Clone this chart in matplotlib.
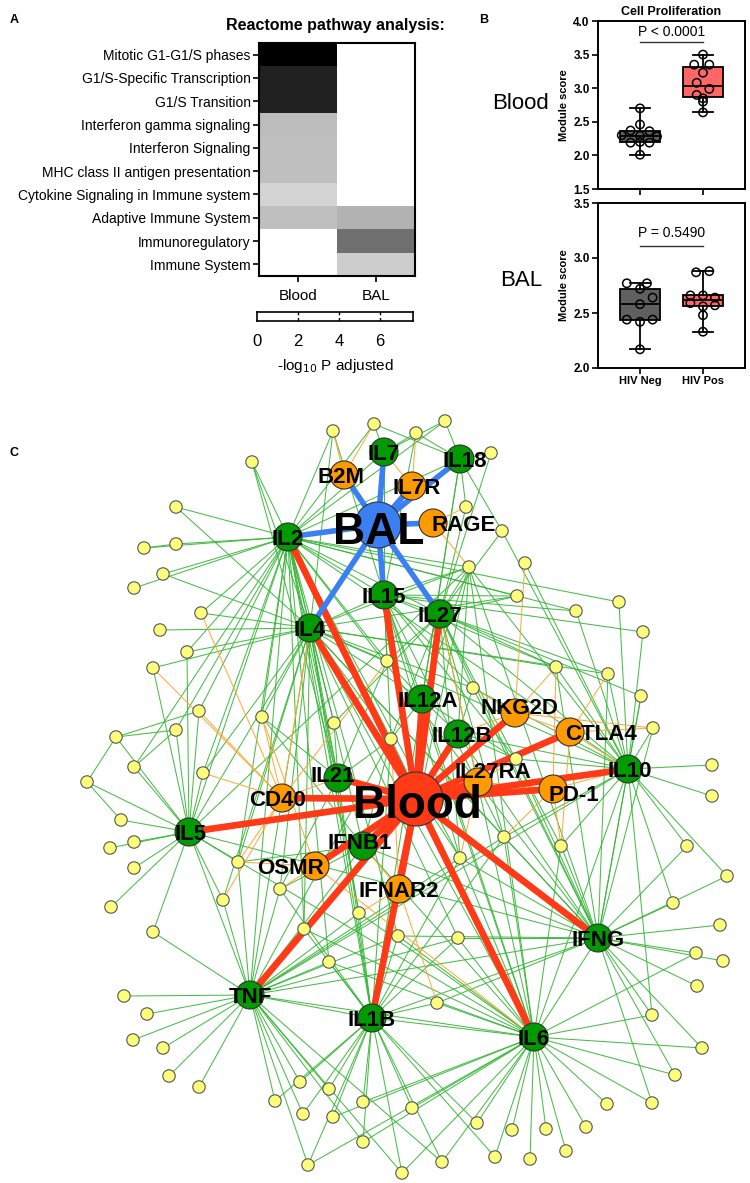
import matplotlib
matplotlib.use("Agg")
import matplotlib.pyplot as plt
import numpy as np
from matplotlib.colors import LinearSegmentedColormap
from matplotlib.patches import Circle
from matplotlib.collections import LineCollection

plt.rcParams['font.family'] = ['Liberation Sans', 'DejaVu Sans']

# ---------------- Panel A data ----------------
pathways = ["Mitotic G1-G1/S phases", "G1/S-Specific Transcription", "G1/S Transition",
            "Interferon gamma signaling", "Interferon Signaling", "MHC class II antigen presentation",
            "Cytokine Signaling in Immune system", "Adaptive Immune System", "Immunoregulatory",
            "Immune System"]
tissues = ["Blood", "BAL"]
blood_logp = [7.6, 6.6, 6.6, 2.0, 1.9, 1.9, 1.3, 1.9, 0.0, 0.0]
bal_logp = [0.0, 0.0, 0.0, 0.0, 0.0, 0.0, 0.0, 2.3, 4.3, 1.5]
cbar_ticks = [0, 2, 4, 6]
cbar_max = 7.6

# ---------------- Panel B data ----------------
groups = ["HIV Neg", "HIV Pos"]
blood_neg = [2.70, 2.46, 2.37, 2.30, 2.36, 2.29, 2.28, 2.19, 2.20, 2.19, 2.01]
blood_neg_dx = [0, 0, -0.15, -0.29, 0.15, 0.0, 0.27, -0.15, 0, 0.15, 0]
blood_pos = [3.50, 3.35, 3.35, 3.23, 3.08, 2.99, 2.90, 2.85, 2.80, 2.64]
blood_pos_dx = [0, -0.14, 0.10, 0, -0.10, 0.10, -0.10, 0, 0, 0]
bal_neg = [2.77, 2.77, 2.72, 2.64, 2.58, 2.44, 2.42, 2.44, 2.17]
bal_neg_dx = [-0.21, 0.11, 0, 0.2, 0, -0.21, 0, 0.2, 0]
bal_pos = [2.87, 2.88, 2.66, 2.66, 2.64, 2.59, 2.56, 2.57, 2.48, 2.33]
bal_pos_dx = [-0.11, 0.10, -0.2, 0, 0.19, -0.2, 0, 0.19, 0, 0]
p_blood = "P < 0.0001"
p_bal = "P = 0.5490"

# ---------------- Panel C data (network layout) ----------------
hub_names = ["BAL", "Blood", "IL7", "IL18", "B2M", "IL7R", "RAGE", "IL2", "IL15", "IL27", "IL4",
             "IL12A", "NKG2D", "IL12B", "CTLA4", "IL27RA", "IL10", "PD-1", "IL21", "CD40", "IL5",
             "IFNB1", "OSMR", "IFNAR2", "IFNG", "TNF", "IL1B", "IL6"]
hub_x = [378, 416, 384, 460, 344, 412, 433, 288, 384, 440, 310, 422, 515, 458, 570, 478, 628,
         553, 338, 282, 189, 363, 315, 399, 598, 250, 372, 534]
hub_y = [525, 799, 452, 459, 475, 486, 523, 537, 595, 614, 628, 699, 713, 734, 732, 782, 769,
         789, 778, 798, 832, 846, 866, 889, 938, 995, 1018, 1037]
hub_kind = ["bal", "blood", "g", "g", "o", "o", "o", "g", "g", "g", "g", "g", "o", "g", "o", "o",
            "g", "o", "g", "o", "g", "g", "o", "o", "g", "g", "g", "g"]
blood_links = ["IL2", "IL4", "IL15", "IL27", "IL12A", "IL12B", "NKG2D", "CTLA4", "IL27RA", "PD-1",
               "IL10", "IL21", "CD40", "IL5", "IFNB1", "OSMR", "IFNAR2", "IFNG", "TNF", "IL1B", "IL6"]
bal_links = ["IL2", "IL4", "IL15", "IL27", "B2M", "IL7", "IL7R", "IL18", "RAGE"]
hub_hub_links = [("IL2", "IL4"), ("IL2", "IL15"), ("IL2", "IL7"), ("IL2", "IL18"), ("IL2", "IL27"),
                 ("IL4", "IL5"), ("IL4", "IL21"), ("IL4", "IL15"), ("IL4", "TNF"), ("IL4", "IFNG"),
                 ("IL4", "IL6"), ("IL4", "IL1B"), ("IL4", "IL10"), ("IL2", "IL10"), ("IL2", "TNF"),
                 ("IL2", "IL6"), ("IL2", "IFNG"), ("IL2", "IL1B"), ("IL2", "IL5"), ("IL2", "IL21"),
                 ("IL15", "IL27"), ("IL15", "IL12A"), ("IL12A", "IL12B"), ("IL12B", "IFNG"),
                 ("IL27", "IL10"), ("IL10", "IFNG"), ("IL10", "IL6"), ("IL10", "TNF"),
                 ("IFNG", "TNF"), ("IFNG", "IL6"), ("TNF", "IL1B"), ("TNF", "IL6"), ("IL1B", "IL6"),
                 ("IL1B", "IFNG"), ("IL5", "TNF"), ("IL5", "IL6"), ("IFNB1", "IL6"), ("IFNB1", "TNF"),
                 ("IFNB1", "IFNG"), ("IL21", "IL1B"), ("IL12A", "IL6"), ("IL12B", "IL10"),
                 ("IL18", "IL12A"), ("IL18", "IL1B"), ("IL27", "IFNG"), ("IL15", "IL6"),
                 ("IL27", "IL6"), ("IL5", "IFNG"), ("IL7", "IL15")]
hub_hub_orange = [("CTLA4", "IL10"), ("PD-1", "IL10"), ("CD40", "IL21"), ("IFNAR2", "IFNB1"),
                  ("IL27RA", "IL27"), ("IL7R", "IL7"), ("NKG2D", "IL12B"), ("OSMR", "IL6"),
                  ("CD40", "IL4"), ("PD-1", "IL27RA"), ("CTLA4", "NKG2D")]
yel_x = [333, 374, 416, 445, 491, 466, 502, 469, 525, 252, 176, 176, 144, 163, 134, 201, 160, 187,
         153, 387, 517, 576, 619, 643, 556, 608, 473, 199, 176, 116, 134, 203, 87, 262, 334, 391,
         121, 134, 110, 134, 238, 280, 223, 111, 153, 359, 304, 398, 641, 653, 516, 712, 712, 504,
         561, 687, 460, 727, 673, 720, 458, 329, 124, 147, 133, 163, 169, 199, 300, 329, 275, 363,
         303, 333, 412, 363, 308, 402, 696, 723, 697, 437, 652, 702, 675, 607, 652, 477, 512, 546,
         586, 566, 495, 530, 442]
yel_y = [431, 424, 433, 421, 453, 507, 531, 567, 563, 462, 507, 544, 548, 574, 588, 613, 630, 652,
         668, 661, 596, 611, 602, 632, 667, 674, 688, 711, 730, 737, 767, 773, 782, 717, 723, 739,
         820, 842, 848, 868, 862, 889, 900, 907, 932, 913, 929, 936, 696, 728, 759, 765, 796, 837,
         846, 846, 858, 876, 903, 925, 938, 962, 996, 1014, 1040, 1048, 1076, 1087, 1082, 1089,
         1101, 1102, 1114, 1117, 1108, 1142, 1165, 1173, 953, 961, 986, 1003, 1015, 1048, 1075,
         1104, 1103, 1123, 1130, 1129, 1127, 1151, 1157, 1159, 1162]
# hubs linked to each yellow node ('*' = orange link)
yel_links = [
    "B2M* IL2 IL4 IL15", "IL7 B2M* IL2 IL18", "IL7R* IL7 IL18 IL15", "IL18 IL7 IL2", "IL18 IL27",
    "RAGE* IL18 IL27", "IL18 IL10 IL27",
    "RAGE* IL2 IL15 IL27 IL12A IL12B IL10 IL6 IFNG IL5 IL4 IL1B", "NKG2D* IL10",
    "IL2 IL4 IL21", "IL2 IL4", "IL2", "IL2", "IL2 IL4", "IL2", "IL2 IL4 CD40*", "IL4",
    "IL4 IL2 IL5", "IL4 CD40* IL5", "IL2 IL4 IL27 IL15 IL12A CD40* IL21", "IL2 IL15 IL4 IL27",
    "IL2 IL15 IL10", "IL2 IL10", "IL15 IL10", "IL27 IL4 IL15 IL10 IFNG PD-1* NKG2D*",
    "IL27 IL4 IL10 IFNG CTLA4*", "IL27 IL15 IL4 IL10 IFNG NKG2D* IL12B",
    "IL2 IL5 CD40*", "IL5 IL2", "IL5", "IL5 IL2", "IL5 CD40* IL2 IL4", "IL5",
    "IL2 IL4 CD40* IL21 IFNB1 OSMR*", "IL21 IL2 IL4 IL27 IFNB1",
    "IL2 IL4 IL15 IL27 IL12A IL21 IFNB1 IL1B TNF IL6 IFNAR2*",
    "IL5", "IL5", "IL5", "IL5", "IL5 IL4 IL2 CD40* OSMR* TNF IFNB1",
    "IL4 IL21 IFNB1 TNF IL1B OSMR*", "IL5 CD40* IL4 TNF", "IL5", "IL5 TNF",
    "IL4 IL2 IL1B TNF IFNAR2* IL6", "TNF IL4 IL2 IL1B IL6", "IL1B TNF IL2 IL6 IFNG",
    "IL10 IL27 IFNG", "IL10 CTLA4* IFNG NKG2D*", "IL12B IL27RA* IL10 CTLA4* IL15 IFNG IL4",
    "IL10", "IL10", "IL27 PD-1* IL10 IL4 IL6 IFNG TNF IL1B IL15",
    "IL10 IL27 PD-1* CTLA4* IL6 IFNG", "IL10 IFNG",
    "IL4 IL2 IL27 IL15 IL6 IFNG TNF IL1B IL27RA*", "IL10 IFNG", "IFNG IL10", "IFNG",
    "IL6 IL1B TNF IFNG IL4", "TNF IL1B IL6 IL2",
    "TNF", "TNF", "TNF", "TNF", "TNF", "TNF",
    "IL1B TNF", "IL1B TNF", "IL1B TNF", "IL1B IL6", "IL1B TNF", "IL1B IL6", "IL6 IL1B",
    "IL1B TNF IL6", "TNF IL1B IL6", "IL1B IL6 TNF",
    "IFNG IL6", "IFNG", "IFNG", "IL6 IL1B IFNG IFNAR2*", "IL6 IFNG IL10", "IL6 IFNG", "IL6 IFNG",
    "IL6", "IL6 IFNG", "IL6 IL1B", "IL6", "IL6", "IL6", "IL6", "IL6 IL1B", "IL6", "IL6 IL1B TNF"]
yel_yel_links = [(29, 30), (30, 33), (33, 37), (28, 30), (31, 29), (12, 13)]

# label offsets (pixels)
lab_dx = {"B2M": -3, "IL7R": 5, "RAGE": 31, "IL18": 5, "IL12A": 6, "NKG2D": 4, "IL12B": 4,
          "CTLA4": 31, "IL27RA": 15, "PD-1": 21, "IL10": 2, "IL21": -5, "CD40": -4, "IL5": 2,
          "IFNB1": -3, "OSMR": -25, "BAL": 1, "Blood": 2}
lab_dy = {"NKG2D": -7, "IL27RA": -12, "PD-1": 4, "IL21": -4, "IFNB1": -5, "BAL": 3, "Blood": 2}

W, H = 750, 1183
fig = plt.figure(figsize=(W / 100, H / 100), dpi=100)

# ---------- network axes (pixel coordinates) ----------
net = fig.add_axes([0, 0, 1, 1])
net.set_xlim(0, W)
net.set_ylim(H, 0)
net.axis('off')

hub_pos = {n: (x, y) for n, x, y in zip(hub_names, hub_x, hub_y)}
green_segs, orange_segs = [], []
for i, s in enumerate(yel_links):
    for tok in s.split():
        orange = tok.endswith('*')
        h = tok.rstrip('*')
        seg = [(yel_x[i], yel_y[i]), hub_pos[h]]
        (orange_segs if orange else green_segs).append(seg)
for a, b in yel_yel_links:
    green_segs.append([(yel_x[a - 1], yel_y[a - 1]), (yel_x[b - 1], yel_y[b - 1])])
for a, b in hub_hub_links:
    green_segs.append([hub_pos[a], hub_pos[b]])
for a, b in hub_hub_orange:
    orange_segs.append([hub_pos[a], hub_pos[b]])

net.add_collection(LineCollection(green_segs, colors='#36b536', linewidths=0.75, alpha=0.9, zorder=1))
net.add_collection(LineCollection(orange_segs, colors='#ffa733', linewidths=0.75, alpha=0.95, zorder=1.1))
net.add_collection(LineCollection([[hub_pos["Blood"], hub_pos[h]] for h in blood_links],
                                  colors='#ff3a16', linewidths=4.8, zorder=2, capstyle='round'))
net.add_collection(LineCollection([[hub_pos["BAL"], hub_pos[h]] for h in bal_links],
                                  colors='#3b80f2', linewidths=4.0, zorder=2, capstyle='round'))

for x, y in zip(yel_x, yel_y):
    net.add_patch(Circle((x, y), 6.2, facecolor='#fdfd7c', edgecolor='#555555', lw=0.8, zorder=3))

node_style = {"g": ('#019a01', 14), "o": ('#ff9a00', 14), "bal": ('#3b80f2', 23), "blood": ('#ff3a16', 27)}
for n, x, y, k in zip(hub_names, hub_x, hub_y, hub_kind):
    col, r = node_style[k]
    net.add_patch(Circle((x, y), r, facecolor=col, edgecolor='#333333', lw=0.8, zorder=4))
for n, x, y, k in zip(hub_names, hub_x, hub_y, hub_kind):
    fs = 32 if n == "BAL" else (33 if n == "Blood" else 16)
    net.text(x + lab_dx.get(n, 0), y + lab_dy.get(n, 0), n, fontsize=fs, fontweight='bold',
             ha='center', va='center_baseline', color='black', zorder=5)

# panel letters & free texts
net.text(14, 20, "A", fontsize=9, fontweight='bold', ha='center', va='center')
net.text(484, 20, "B", fontsize=9, fontweight='bold', ha='center', va='center')
net.text(14, 453, "C", fontsize=9, fontweight='bold', ha='center', va='center')
net.text(335, 25, "Reactome pathway analysis:", fontsize=11.5, fontweight='bold', ha='center', va='center')
net.text(520, 103, "Blood", fontsize=16, ha='center', va='center')
net.text(521, 280, "BAL", fontsize=16, ha='center', va='center')

# ---------- Panel A heatmap ----------
def fr(x0, y0, x1, y1):
    return [x0 / W, 1 - y1 / H, (x1 - x0) / W, (y1 - y0) / H]

cmap = LinearSegmentedColormap.from_list("wb", ["white", "black"])
axA = fig.add_axes(fr(259, 43, 415, 276))
mat = np.array([blood_logp, bal_logp]).T
axA.pcolormesh(np.arange(3), np.arange(len(pathways) + 1), mat, cmap=cmap, vmin=0, vmax=cbar_max)
axA.set_ylim(len(pathways), 0)
axA.set_xlim(0, 2)
axA.set_yticks(np.arange(len(pathways)) + 0.5)
axA.set_yticklabels(pathways, fontsize=10)
axA.set_xticks([0.5, 1.5])
axA.set_xticklabels(tissues, fontsize=11)
axA.tick_params(axis='both', length=4, width=1.2, pad=2)
axA.tick_params(axis='x', pad=5)
for sp in axA.spines.values():
    sp.set_linewidth(1.5)

axC = fig.add_axes(fr(257, 312, 413, 321))
axC.set_xlim(0, cbar_max)
axC.set_ylim(0, 1)
axC.set_facecolor('white')
for t in cbar_ticks[1:]:
    axC.axvline(t, color='black', lw=1.0, ls=(0, (2.5, 2)))
axC.set_yticks([])
axC.set_xticks(cbar_ticks)
axC.set_xticklabels([str(t) for t in cbar_ticks], fontsize=12)
axC.tick_params(axis='x', length=0, pad=9)
for sp in axC.spines.values():
    sp.set_linewidth(1.2)
axC.set_xlabel("-log$_{10}$ P adjusted", fontsize=11, labelpad=6)

# ---------- Panel B boxplots ----------
def box_panel(rect, neg, negdx, pos, posdx, ylim, yticks, ptxt, pline_y, ptxt_y, show_xlabels, title=None):
    ax = fig.add_axes(rect)
    bp = ax.boxplot([neg, pos], positions=[1, 2], widths=0.65, whis=(0, 100), showfliers=False,
                    patch_artist=True, capwidths=0.32,
                    medianprops=dict(color='black', lw=1.3),
                    whiskerprops=dict(color='black', lw=1.3),
                    capprops=dict(color='black', lw=1.3),
                    boxprops=dict(edgecolor='black', lw=1.3))
    for patch, c in zip(bp['boxes'], ['#606060', '#ff6666']):
        patch.set_facecolor(c)
    ax.scatter(1 + np.array(negdx), neg, s=36, facecolor='none', edgecolor='black', lw=1.1, zorder=5)
    ax.scatter(2 + np.array(posdx), pos, s=36, facecolor='none', edgecolor='black', lw=1.1, zorder=5)
    ax.set_xlim(0.333, 2.667)
    ax.set_ylim(*ylim)
    ax.set_yticks(yticks)
    ax.set_yticklabels([f"{v:.1f}" for v in yticks], fontsize=8.5, fontweight='bold')
    ax.set_xticks([1, 2])
    if show_xlabels:
        ax.set_xticklabels(groups, fontsize=8, fontweight='bold')
    else:
        ax.set_xticklabels([])
    ax.tick_params(axis='both', length=4, width=1.2, pad=2)
    ax.set_ylabel("Module score", fontsize=8, fontweight='bold', labelpad=3)
    for sp in ax.spines.values():
        sp.set_linewidth(1.4)
    ax.plot([1, 2], [pline_y, pline_y], color='#333333', lw=1.0)
    ax.text(1.5, ptxt_y, ptxt, fontsize=10, ha='center', va='center')
    if title:
        ax.set_title(title, fontsize=9, fontweight='bold', pad=4)
    return ax

box_panel(fr(598, 21, 745, 189), blood_neg, blood_neg_dx, blood_pos, blood_pos_dx,
          (1.5, 4.0), [1.5, 2.0, 2.5, 3.0, 3.5, 4.0], p_blood, 3.69, 3.84, False,
          title="Cell Proliferation")
box_panel(fr(598, 203, 745, 368), bal_neg, bal_neg_dx, bal_pos, bal_pos_dx,
          (2.0, 3.5), [2.0, 2.5, 3.0, 3.5], p_bal, 3.11, 3.23, True)

fig.savefig("out.png", dpi=100)
